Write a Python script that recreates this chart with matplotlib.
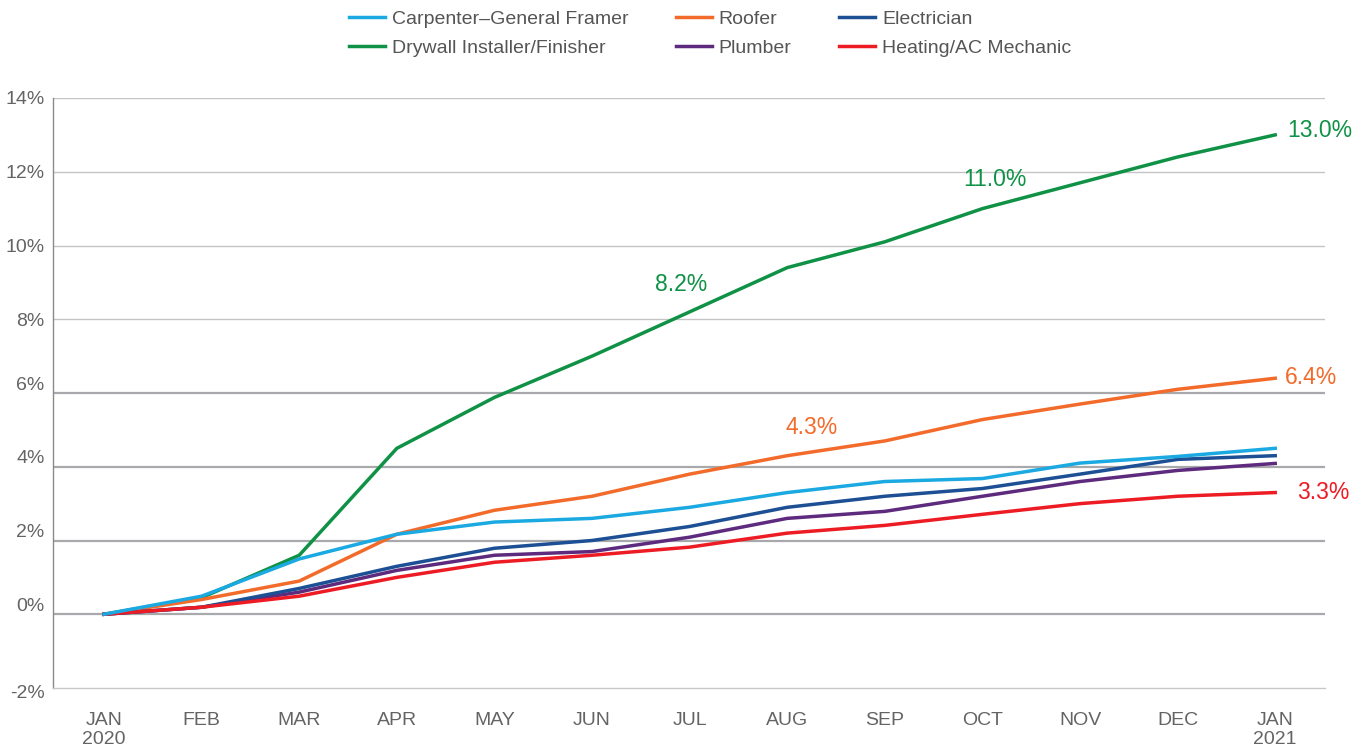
import matplotlib
matplotlib.use("Agg")
import matplotlib.pyplot as plt
import matplotlib.transforms as mtransforms

plt.rcParams['font.family'] = ['Liberation Sans', 'DejaVu Sans']

months = ["JAN\n2020", "FEB", "MAR", "APR", "MAY", "JUN", "JUL",
          "AUG", "SEP", "OCT", "NOV", "DEC", "JAN\n2021"]

carpenter = [0, 0.49, 1.5, 2.17, 2.5, 2.6, 2.9, 3.3, 3.6, 3.68, 4.1, 4.28, 4.5]
drywall = [0, 0.45, 1.6, 4.5, 5.88, 7.0, 8.2, 9.4, 10.1, 11.0, 11.7, 12.4, 13.0]
roofer = [0, 0.4, 0.9, 2.17, 2.82, 3.2, 3.8, 4.3, 4.7, 5.28, 5.7, 6.1, 6.4]
plumber = [0, 0.19, 0.6, 1.19, 1.6, 1.7, 2.09, 2.6, 2.79, 3.2, 3.6, 3.9, 4.09]
electrician = [0, 0.19, 0.7, 1.3, 1.79, 2.0, 2.38, 2.9, 3.2, 3.41, 3.8, 4.2, 4.3]
heating = [0, 0.19, 0.49, 1.0, 1.41, 1.6, 1.82, 2.2, 2.41, 2.71, 3.0, 3.2, 3.3]

yticks = [-2, 0, 2, 4, 6, 8, 10, 12, 14]

c_carp = "#1ba9e1"
c_dry = "#0f9246"
c_roof = "#f26b2a"
c_plum = "#5d2a7e"
c_elec = "#1c4f94"
c_heat = "#ed1c24"

fig = plt.figure(figsize=(13.68, 7.48), dpi=100)
ax = fig.add_axes([53 / 1368, 60 / 748, 1272 / 1368, 590 / 748])

x = list(range(len(months)))

# gridlines: lower ones heavier
for v in yticks[1:]:
    if v <= 6:
        ax.axhline(v, color="#a7a9ac", lw=1.6, zorder=1)
    else:
        ax.axhline(v, color="#c4c4c4", lw=1.0, zorder=1)

lw = 2.5
ax.plot(x, drywall, color=c_dry, lw=lw, label="Drywall Installer/Finisher", zorder=3)
ax.plot(x, roofer, color=c_roof, lw=lw, label="Roofer", zorder=3)
ax.plot(x, plumber, color=c_plum, lw=lw, label="Plumber", zorder=3)
ax.plot(x, electrician, color=c_elec, lw=lw, label="Electrician", zorder=3)
ax.plot(x, heating, color=c_heat, lw=lw, label="Heating/AC Mechanic", zorder=3)
ax.plot(x, carpenter, color=c_carp, lw=lw, label="Carpenter\u2013General Framer", zorder=4)

ax.set_xlim(-0.523, 12.51)
ax.set_ylim(-2, 14)
ax.set_xticks(x)
ax.set_xticklabels(months)
ax.set_yticks(yticks)
ax.set_yticklabels([f"{v}%" for v in yticks])
ax.tick_params(axis="both", length=0, labelsize=14, labelcolor="#646464")
ax.tick_params(axis="x", pad=17)
ax.tick_params(axis="y", pad=6)

# lower y labels sit a little above their lines in the original
for lab, v in zip(ax.get_yticklabels(), yticks):
    if 0 <= v <= 6:
        dy = 10
    elif v < 0:
        dy = -3
    else:
        dy = 0
    lab.set_transform(lab.get_transform() + mtransforms.ScaledTranslation(0, dy / 100, fig.dpi_scale_trans))

for s in ["top", "right"]:
    ax.spines[s].set_visible(False)
ax.spines["left"].set_color("#8a8a8a")
ax.spines["bottom"].set_color("#c8c8c8")
ax.spines["left"].set_linewidth(1.0)
ax.spines["bottom"].set_linewidth(1.0)

# value labels
def label(series, i, txt, color, dx, dy, ha="left"):
    ax.annotate(txt, (i, series[i]), xytext=(dx, dy), textcoords="offset pixels",
                color=color, fontsize=16.5, ha=ha, va="center")

label(drywall, 12, "13.0%", c_dry, 12, 4)
label(drywall, 9, "11.0%", c_dry, 13, 29, ha="center")
label(drywall, 6, "8.2%", c_dry, -9, 27, ha="center")
label(roofer, 12, "6.4%", c_roof, 10, 1)
label(roofer, 7, "4.3%", c_roof, 24, 28, ha="center")
label(heating, 12, "3.3%", c_heat, 22, 0)

# legend order: column-major, 3 columns
names = ["Carpenter\u2013General Framer", "Drywall Installer/Finisher", "Roofer",
         "Plumber", "Electrician", "Heating/AC Mechanic"]
lookup = {l.get_label(): l for l in ax.lines}
fig.legend([lookup[n] for n in names], names, loc="upper center",
           bbox_to_anchor=(710 / 1368, 1.01), ncol=3,
           frameon=False, fontsize=14, handlelength=1.85, handletextpad=0.35,
           columnspacing=2.45, labelspacing=0.6, labelcolor="#555555")

fig.savefig("out.png", dpi=100)
